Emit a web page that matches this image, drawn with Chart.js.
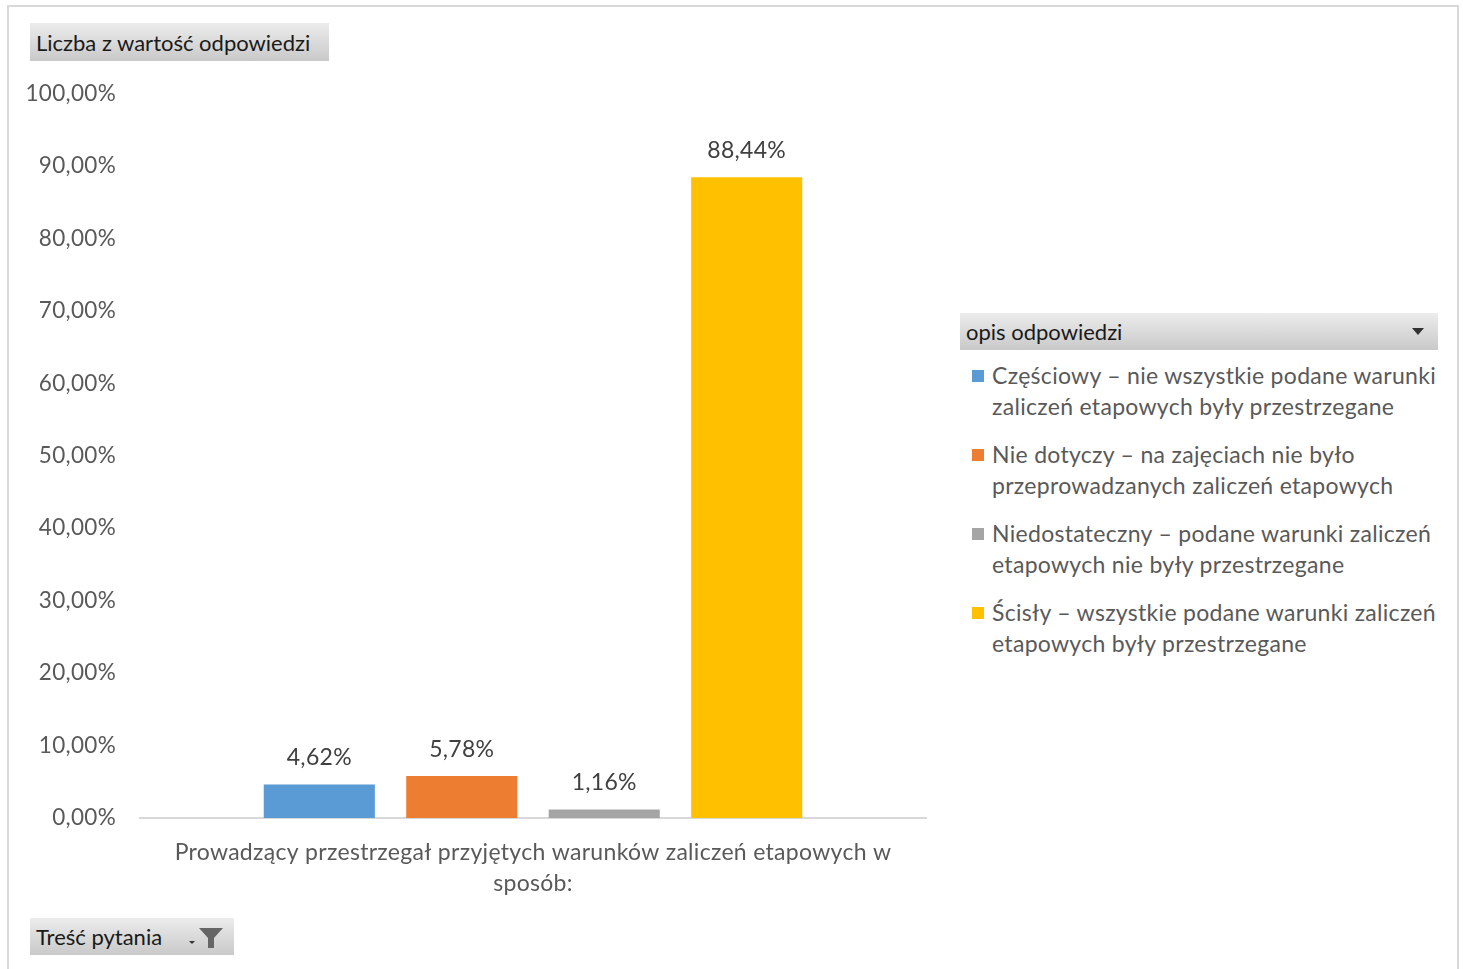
<!DOCTYPE html>
<html>
<head>
<meta charset="utf-8">
<script src="https://cdn.jsdelivr.net/npm/chart.js@4.4.1/dist/chart.umd.min.js"></script>
<style>
  html, body { margin: 0; padding: 0; background: #fff; }
  body { width: 1463px; height: 969px; position: relative; overflow: hidden; font-family: Lato, "Open Sans", sans-serif; }
  #frame { position: absolute; left: 7px; top: 5px; width: 1452px; height: 970px; border: 2px solid #d9d9d9; box-sizing: border-box; }
  .btn { position: absolute; background: linear-gradient(#ececec, #c9c9c9); color: #1a1a1a; font-size: 22px; box-sizing: border-box; padding-left: 6px; display: flex; align-items: center; }
  #valbtn { left: 30px; top: 23px; width: 299px; height: 38px; }
  #qbtn { left: 30px; top: 918px; width: 204px; height: 37px; }
  #leghead { left: 960px; top: 313px; width: 478px; height: 37px; }
  #chartbox { position: absolute; left: 0; top: 56px; width: 940px; height: 854px; }
  #legend { position: absolute; left: 970px; top: 360px; width: 490px; }
  .li { position: relative; padding-left: 22px; color: #595959; font-size: 23px; letter-spacing: 0.3px; line-height: 31px; margin-bottom: 17px; white-space: nowrap; }
  .sw { position: absolute; left: 2px; top: 10px; width: 12px; height: 12px; }
</style>
</head>
<body>
<div id="frame"></div>
<div class="btn" id="valbtn">Liczba z wartość odpowiedzi</div>
<div class="btn" id="leghead">opis odpowiedzi
  <svg style="position:absolute;left:452px;top:15px" width="12" height="7"><polygon points="0,0 12,0 6,7" fill="#333"/></svg>
</div>
<div class="btn" id="qbtn">Treść pytania
  <svg style="position:absolute;left:157px;top:8px" width="40" height="24">
    <polygon points="2,15 8,15 5,18" fill="#333"/>
    <polygon points="12,2 36,2 27,12 27,22 21,22 21,12" fill="#666"/>
  </svg>
</div>
<div id="chartbox"><canvas id="c"></canvas></div>
<div id="legend"></div>
<script>
const categoryLabel = ["Prowadzący przestrzegał przyjętych warunków zaliczeń etapowych w", "sposób:"];
const seriesNames = [
  ["Częściowy – nie wszystkie podane warunki", "zaliczeń etapowych były przestrzegane"],
  ["Nie dotyczy – na zajęciach nie było", "przeprowadzanych zaliczeń etapowych"],
  ["Niedostateczny – podane warunki zaliczeń", "etapowych nie były przestrzegane"],
  ["Ścisły – wszystkie podane warunki zaliczeń", "etapowych były przestrzegane"]
];
const seriesValues = [4.62, 5.78, 1.16, 88.44];
const seriesColors = ["#5b9bd5", "#ed7d31", "#a5a5a5", "#ffc000"];
const yTicks = [0, 10, 20, 30, 40, 50, 60, 70, 80, 90, 100];

const fmt = v => v.toFixed(2).replace('.', ',') + '%';
const FONT = "Lato, 'Open Sans', sans-serif";

const spacing = {
  id: 'spacing',
  beforeDraw(chart) { chart.ctx.letterSpacing = '0.3px'; }
};

const valueLabels = {
  id: 'valueLabels',
  afterDatasetsDraw(chart) {
    const ctx = chart.ctx;
    ctx.save();
    ctx.letterSpacing = '0.3px';
    ctx.font = "23px " + FONT;
    ctx.fillStyle = "#404040";
    ctx.textAlign = "center";
    ctx.textBaseline = "middle";
    chart.data.datasets.forEach((ds, i) => {
      const meta = chart.getDatasetMeta(i);
      meta.data.forEach((bar, j) => {
        ctx.fillText(fmt(ds.data[j]), bar.x, bar.y - 27);
      });
    });
    ctx.restore();
  }
};

new Chart(document.getElementById('c'), {
  type: 'bar',
  data: {
    labels: [categoryLabel],
    datasets: seriesNames.map((n, i) => ({
      label: n.join(' '),
      data: [seriesValues[i]],
      backgroundColor: seriesColors[i],
      categoryPercentage: 0.725,
      barPercentage: 0.78
    }))
  },
  options: {
    responsive: true,
    maintainAspectRatio: false,
    animation: false,
    layout: { padding: { top: 30, right: 14, left: 0, bottom: 0 } },
    plugins: { legend: { display: false }, tooltip: { enabled: false } },
    scales: {
      x: {
        grid: { display: false, drawTicks: false },
        border: { display: true, color: "#d9d9d9", width: 2 },
        ticks: { color: "#595959", font: { family: FONT, size: 23, lineHeight: 1.35 }, padding: 19, maxRotation: 0 },
        afterFit(s) { s.height = 92; }
      },
      y: {
        min: 0, max: 100,
        afterBuildTicks(s) { s.ticks = yTicks.map(v => ({ value: v })); },
        grid: { display: false, drawTicks: false },
        border: { display: false },
        ticks: { color: "#595959", font: { family: FONT, size: 22.5 }, padding: 24, callback: v => fmt(v) },
        afterFit(s) { s.width = 140; }
      }
    }
  },
  plugins: [spacing, valueLabels]
});

const leg = document.getElementById('legend');
seriesNames.forEach((n, i) => {
  const d = document.createElement('div');
  d.className = 'li';
  d.innerHTML = '<span class="sw" style="background:' + seriesColors[i] + '"></span>' + n.join('<br>');
  leg.appendChild(d);
});
</script>
</body>
</html>
